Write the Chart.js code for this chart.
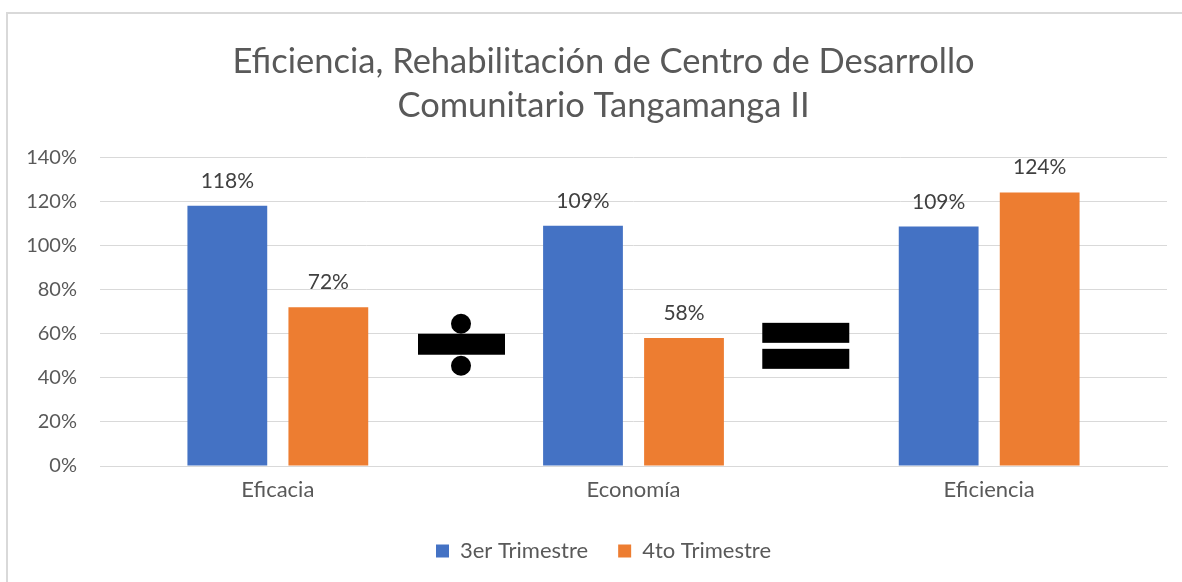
<!DOCTYPE html>
<html>
<head>
<meta charset="utf-8">
<script src="https://cdn.jsdelivr.net/npm/chart.js@4/dist/chart.umd.min.js"></script>
<style>
  html, body { margin: 0; padding: 0; background: #fff; }
  #wrap { width: 1182px; height: 582px; position: relative; }
</style>
</head>
<body>
<div id="wrap"><canvas id="chart" width="1182" height="582"></canvas></div>
<script>
// Chart data
const categories = ["Eficacia", "Economía", "Eficiencia"];
const trimestre3 = [1.18, 1.09, 1.086];
const trimestre4 = [0.72, 0.58, 1.241];
const seriesNames = ["3er Trimestre", "4to Trimestre"];
const titleLines = ["Eficiencia, Rehabilitación de Centro de Desarrollo", "Comunitario Tangamanga II"];

const textColor = "#595959";
const gridColor = "#d9d9d9";
const fontName = "Lato";

const pct = v => Math.round(v * 100) + "%";

// outer frame like the spreadsheet chart area
const framePlugin = {
  id: "frame",
  beforeDraw(chart) {
    const ctx = chart.ctx;
    ctx.save();
    ctx.strokeStyle = gridColor;
    ctx.lineWidth = 2;
    ctx.strokeRect(7, 13, chart.width + 20, chart.height + 20);
    ctx.restore();
  },
  // title and legend sit a little right of the canvas centre in the original
  afterLayout(chart) {
    [chart.titleBlock, chart.legend].forEach(b => {
      if (b) { b.left += 20; b.right += 20; }
    });
  }
};

// value labels above the bars
const barLabels = {
  id: "barLabels",
  afterDatasetsDraw(chart) {
    const ctx = chart.ctx;
    ctx.save();
    ctx.font = "21px " + fontName;
    ctx.fillStyle = "#404040";
    ctx.textAlign = "center";
    ctx.textBaseline = "alphabetic";
    chart.data.datasets.forEach((ds, i) => {
      chart.getDatasetMeta(i).data.forEach((bar, j) => {
        ctx.fillText(pct(ds.data[j]), bar.x, bar.y - 18);
      });
    });
    ctx.restore();
  }
};

// the ÷ and = signs drawn between the groups
const signs = {
  id: "signs",
  afterDatasetsDraw(chart) {
    const ctx = chart.ctx;
    const x = chart.scales.x, y = chart.scales.y;
    ctx.save();
    ctx.fillStyle = "#000";
    // division
    let cx = x.getPixelForValue(0.515), cy = y.getPixelForValue(0.55);
    ctx.fillRect(cx - 43, cy - 11, 87, 21);
    ctx.beginPath(); ctx.arc(cx, cy - 21, 10, 0, Math.PI * 2); ctx.fill();
    ctx.beginPath(); ctx.arc(cx, cy + 21, 10, 0, Math.PI * 2); ctx.fill();
    // equals
    cx = x.getPixelForValue(1.483); cy = y.getPixelForValue(0.545);
    ctx.fillRect(cx - 43, cy - 23, 87, 20);
    ctx.fillRect(cx - 43, cy + 3, 87, 20);
    ctx.restore();
  }
};

new Chart(document.getElementById("chart"), {
  type: "bar",
  data: {
    labels: categories,
    datasets: [
      { label: seriesNames[0], data: trimestre3, backgroundColor: "#4472c4" },
      { label: seriesNames[1], data: trimestre4, backgroundColor: "#ed7d31" }
    ]
  },
  options: {
    responsive: false,
    animation: false,
    categoryPercentage: 0.568,
    barPercentage: 0.79,
    layout: { padding: { left: 0, right: 15, top: 40, bottom: 10 } },
    plugins: {
      title: {
        display: true,
        text: titleLines,
        color: textColor,
        font: { family: fontName, size: 34.5, weight: "normal", lineHeight: 1.28 },
        padding: { top: 0, bottom: 29 }
      },
      legend: {
        position: "bottom",
        labels: {
          color: textColor,
          font: { family: fontName, size: 22 },
          boxWidth: 13,
          boxHeight: 13,
          padding: 30
        }
      },
      tooltip: { enabled: false }
    },
    scales: {
      x: {
        afterFit(scale) { scale.height = 44; },
        grid: { display: false, drawTicks: false },
        border: { color: gridColor },
        ticks: { color: textColor, font: { family: fontName, size: 22 }, padding: 11 }
      },
      y: {
        min: 0,
        max: 1.4,
        afterFit(scale) { scale.width = 100; },
        grid: { color: gridColor, drawTicks: false },
        border: { display: false },
        ticks: {
          stepSize: 0.2,
          padding: 23,
          color: textColor,
          font: { family: fontName, size: 20 },
          callback: v => pct(v)
        }
      }
    }
  },
  plugins: [framePlugin, barLabels, signs]
});
</script>
</body>
</html>
